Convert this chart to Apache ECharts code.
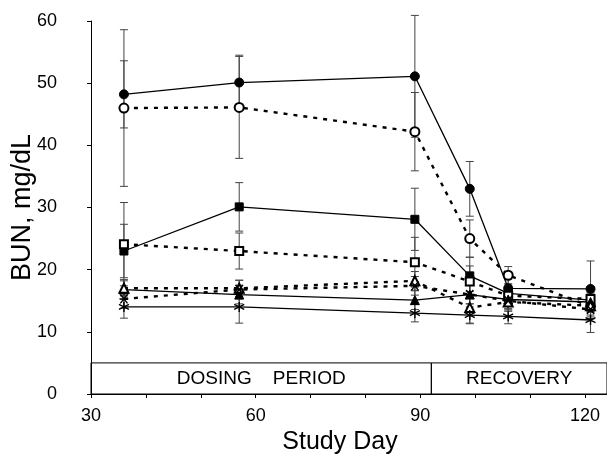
<!DOCTYPE html>
<html>
<head>
<meta charset="utf-8">
<script src="https://cdn.jsdelivr.net/npm/echarts@6/dist/echarts.min.js"></script>
<style>html,body{margin:0;padding:0;background:#fff}#c{width:607px;height:455px}</style>
</head>
<body>
<div id="c"></div>
<script>
const days = [36, 57, 89, 99, 106, 121];
const xTickLabels = [30, 60, 90, 120];
const yTickLabels = [0, 10, 20, 30, 40, 50, 60];
const periods = [
  { name: 'DOSING    PERIOD', from: 30, to: 92 },
  { name: 'RECOVERY', from: 92, to: 124 }
];
const periodHeight = 5;

const fcMean = [48.2, 50.1, 51.1, 33.0, 17.0, 16.9];
const fcErr  = [5.4, 4.4, 9.8, 4.4, 1.5, 4.5];
const ocMean = [46.0, 46.1, 42.2, 25.0, 19.1, 14.1];
const ocErr  = [12.6, 8.2, 6.3, 3.0, 1.4, 2.0];
const fsMean = [23.0, 30.1, 28.1, 19.0, 16.2, 15.1];
const fsErr  = [4.3, 3.9, 5.0, 3.0, 1.5, 2.0];
const osMean = [24.1, 23.0, 21.2, 18.1, 15.8, 15.3];
const osErr  = [6.7, 2.9, 4.0, 2.5, 1.5, 2.0];
const ftMean = [16.8, 16.0, 15.1, 16.0, 15.2, 14.8];
const ftErr  = [1.6, 1.5, 1.5, 1.5, 1.5, 1.5];
const otMean = [17.0, 17.0, 18.2, 13.9, 14.8, 14.2];
const otErr  = [1.2, 1.3, 1.5, 2.6, 1.5, 1.5];
const asMean = [14.0, 14.0, 13.0, 12.7, 12.5, 11.9];
const asErr  = [1.8, 2.6, 1.4, 1.3, 1.2, 2.0];
const xdMean = [15.3, 16.8, 17.4, 16.0, 15.0, 13.6];
const xdErr  = [1.5, 1.5, 1.5, 1.5, 1.5, 1.5];

const ASTER = 'path://M0,-5L0,5M-4.33,-2.5L4.33,2.5M-4.33,2.5L4.33,-2.5';
const XMARK = 'path://M-4,-4L4,4M-4,4L4,-4M-5,0L5,0';

const groups = [
  { mean: fcMean, err: fcErr, symbol: 'circle', size: 9, dashed: false },
  { mean: ocMean, err: ocErr, symbol: 'emptyCircle', size: 9, dashed: true },
  { mean: fsMean, err: fsErr, symbol: 'rect', size: 8, dashed: false },
  { mean: osMean, err: osErr, symbol: 'emptyRect', size: 8, dashed: true },
  { mean: ftMean, err: ftErr, symbol: 'triangle', size: 9, dashed: false },
  { mean: otMean, err: otErr, symbol: 'emptyTriangle', size: 9, dashed: true },
  { mean: asMean, err: asErr, symbol: ASTER, size: 10, dashed: false },
  { mean: xdMean, err: xdErr, symbol: XMARK, size: 9, dashed: true }
];

const errData = [];
groups.forEach(g => days.forEach((d, i) => errData.push([d, g.mean[i], g.err[i]])));

const series = [{
  type: 'custom',
  z: 1,
  clip: false,
  silent: true,
  data: errData,
  renderItem: function (params, api) {
    const x = api.value(0), y = api.value(1), e = api.value(2);
    const top = api.coord([x, y + e]);
    const bot = api.coord([x, y - e]);
    const hw = 4;
    const st = { stroke: '#444', lineWidth: 1 };
    return {
      type: 'group',
      children: [
        { type: 'line', shape: { x1: top[0], y1: top[1], x2: bot[0], y2: bot[1] }, style: st },
        { type: 'line', shape: { x1: top[0] - hw, y1: top[1], x2: top[0] + hw, y2: top[1] }, style: st },
        { type: 'line', shape: { x1: bot[0] - hw, y1: bot[1], x2: bot[0] + hw, y2: bot[1] }, style: st }
      ]
    };
  }
}];

groups.forEach((g, gi) => {
  const isPath = g.symbol.indexOf('path://') === 0;
  const s = {
    type: 'line',
    z: 3,
    data: days.map((d, i) => [d, g.mean[i]]),
    symbol: g.symbol,
    symbolSize: g.size,
    showAllSymbol: true,
    lineStyle: g.dashed ? { color: '#000', width: 2.4, type: [4, 6] } : { color: '#000', width: 1.3 },
    itemStyle: isPath ? { color: 'none', borderColor: '#000', borderWidth: 1.4 }
      : (g.symbol.indexOf('empty') === 0 ? { color: '#000', borderColor: '#000', borderWidth: 1.3 } : { color: '#000', borderColor: '#000', borderWidth: 1 }),
    emphasis: { disabled: true },
    animation: false
  };
  if (gi === 0) {
    s.markArea = {
      silent: true,
      itemStyle: { color: 'rgba(0,0,0,0)', borderColor: '#000', borderWidth: 1 },
      label: { show: true, position: 'inside', color: '#000', fontSize: 19, fontFamily: 'Liberation Sans' },
      data: periods.map(p => [{ name: p.name, xAxis: p.from, yAxis: 0 }, { xAxis: p.to, yAxis: periodHeight }])
    };
  }
  series.push(s);
});

const chart = echarts.init(document.getElementById('c'), null, { renderer: 'canvas' });
chart.setOption({
  animation: false,
  backgroundColor: '#fff',
  grid: { left: 91, right: 0, top: 21, bottom: 61, containLabel: false, outerBoundsMode: 'none' },
  xAxis: {
    type: 'value', min: 30, max: 124, interval: 10,
    name: 'Study Day', nameLocation: 'middle', nameGap: 22,
    nameTextStyle: { fontSize: 25, color: '#000', fontFamily: 'Liberation Sans', padding: [0, 18, 0, 0] },
    axisLine: { show: true, lineStyle: { color: '#000', width: 1 } },
    axisTick: { show: true, inside: false, length: 4, lineStyle: { color: '#000' } },
    axisLabel: {
      fontSize: 18, color: '#000', fontFamily: 'Liberation Sans', margin: 13,
      formatter: v => (xTickLabels.indexOf(v) >= 0 ? String(v) : '')
    },
    splitLine: { show: false }
  },
  yAxis: {
    type: 'value', min: 0, max: 60, interval: 10,
    name: 'BUN, mg/dL', nameLocation: 'middle', nameGap: 55, nameMoveOverlap: false,
    nameTextStyle: { fontSize: 27, color: '#000', fontFamily: 'Liberation Sans' },
    axisLine: { show: true, lineStyle: { color: '#000', width: 1 } },
    axisTick: { show: true, inside: false, length: 4, lineStyle: { color: '#000' } },
    axisLabel: {
      fontSize: 18, color: '#000', fontFamily: 'Liberation Sans', margin: 34,
      formatter: v => (yTickLabels.indexOf(v) >= 0 ? String(v) : '')
    },
    splitLine: { show: false }
  },
  series: series
});
</script>
</body>
</html>
